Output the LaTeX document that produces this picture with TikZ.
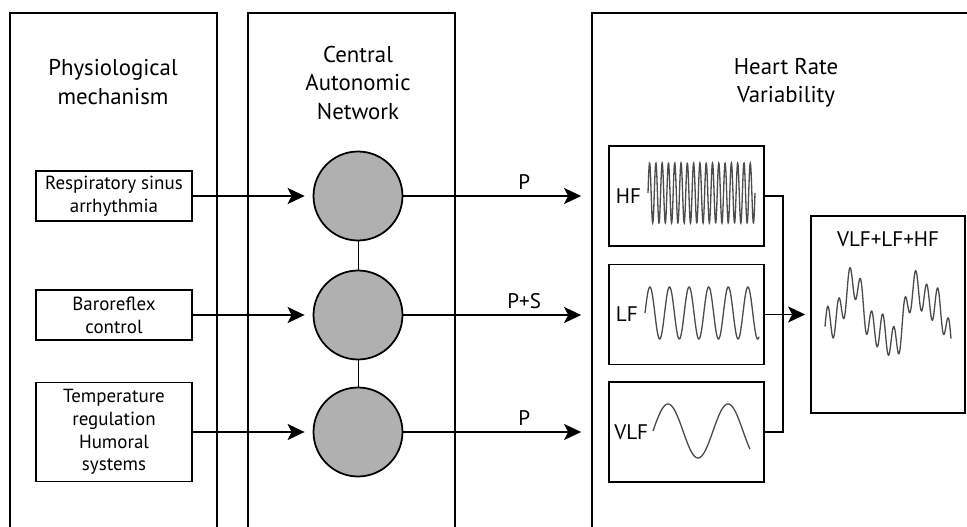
\documentclass[tikz,border=0pt]{standalone}
\usepackage{fontspec}
\setmainfont{PT Sans}
\usetikzlibrary{positioning, arrows.meta}
\tikzset{
    panel/.style={line width=1pt}, % the three open frames
    mech/.style={draw, line width=1pt, minimum width=3.12cm, inner sep=0pt, align=center, font=\fontsize{10.8}{13}\selectfont},
    hub/.style={circle, draw, line width=1pt, fill=gray!62, minimum size=1.78cm, inner sep=0pt},
    band/.style={draw, line width=1pt, minimum width=3.1cm, minimum height=2cm, inner sep=0pt},
    title/.style={align=center, font=\fontsize{13}{16}\selectfont},
    small/.style={font=\fontsize{12}{14}\selectfont},
    wave/.style={line width=0.75pt, black!70},
}
\tikzstyle{arrow} = [line width=1pt, -{Stealth[length=0.34cm, width=0.32cm, inset=0.08cm]}]

\begin{document}
\begin{tikzpicture}[x=0.02cm, y=-0.02cm]
            \useasboundingbox (0,0) rectangle (967,527);

            % frames
            \draw[panel] (10,527) |- (217,13) -- (217,527);
            \draw[panel] (248,527) |- (455,13) -- (455,527);
            \draw[panel] (592,527) |- (967,13);

            \node[title] (t1) at (113,82) {Physiological\\mechanism};
            \node[title] (t2) at (358,83) {Central\\Autonomic\\Network};
            \node[title] (t3) at (786,83) {Heart Rate\\Variability};

            \node[mech, minimum height=1cm] (rsa) at (114,196) {Respiratory sinus\\arrhythmia};
            \node[mech, minimum height=1cm] (baro) at (114,315) {Baroreflex\\control};
            \node[mech, minimum height=1.98cm] (temp) at (114,432) {Temperature\\regulation\\Humoral\\systems};

            \node[hub] (c1) at (358,196) {};
            \node[hub] (c2) at (358,315) {};
            \node[hub] (c3) at (358,432) {};

            \node[band] (hf) at (686.5,196) {};
            \node[band] (lf) at (686.5,314.5) {};
            \node[band] (vlf) at (686.5,432) {};
            \node[small, right=0.03cm of hf.west] (hft) {HF};
            \node[small, right=0.03cm of lf.west] (lft) {LF};
            \node[small, right=0cm of vlf.west] (vlft) {VLF};

            \node[draw, line width=1pt, minimum width=3.08cm, minimum height=3.94cm] (sum) at (888,314.5) {};
            \node[small, below=0.2cm of sum.north] (sumt) {VLF+LF+HF};

            \path[arrow, shorten >=0.16cm]
            (rsa) edge (c1)
            (baro) edge (c2)
            (temp) edge (c3);

            \draw (c1) -- (c2) -- (c3);

            \path[arrow, shorten >=0.54cm]
            (c1) edge node[small, above, pos=0.59] {P} (c1 -| hf.west)
            (c2) edge node[small, above, pos=0.59] {P+S} (c2 -| lf.west)
            (c3) edge node[small, above, pos=0.59] {P} (c3 -| vlf.west);

            \coordinate (bus) at (783,315);
            \draw[line width=1pt] (hf.east) -| (bus) |- (vlf.east);
            \draw[arrow, shorten >=0.1cm] (lf.east) -- (lf.east -| sum.west);

            % signals (phase factors in degrees per pixel)
            \draw[wave] plot[domain=648:755, samples=500] (\x, {193-30*sin((\x-648)*57.2)});
            \draw[wave] plot[domain=645:759, samples=300] (\x, {313-26*sin((\x-645)*18.37)});
            \draw[wave] plot[domain=653:750, samples=200] (\x, {431-27*sin((\x-653)*6)});
            \draw[wave] plot[domain=825:951, samples=400] (\x, {316-26*cos((\x-852)*5.143)-17*sin((\x-825)*32.73)-9*cos((\x-825)*12.41)});
        \end{tikzpicture}
\end{document}
